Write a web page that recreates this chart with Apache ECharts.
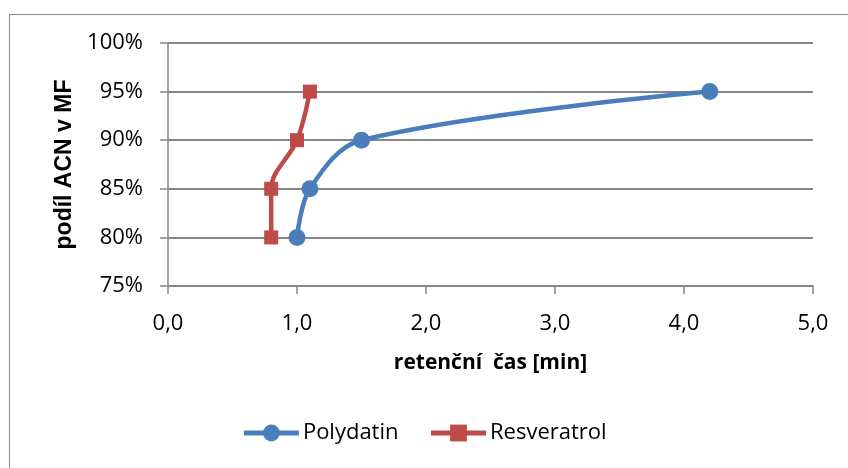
<!DOCTYPE html>
<html><head><meta charset="utf-8">
<script src="https://cdn.jsdelivr.net/npm/echarts@6/dist/echarts.min.js"></script>
<style>html,body{margin:0;padding:0;background:#fff;overflow:hidden}#c{width:848px;height:468px;position:relative}
#frame{position:absolute;left:9px;top:14px;width:860px;height:470px;border:1.5px solid #8c8c8c;box-sizing:border-box;pointer-events:none}</style>
</head><body><div id="c"></div><div id="frame"></div>
<script>
const polydatinX = [1.0, 1.1, 1.5, 4.2];
const polydatinY = [80, 85, 90, 95];
const resveratrolX = [0.8, 0.8, 1.0, 1.1];
const resveratrolY = [80, 85, 90, 95];
const seriesNames = ['Polydatin', 'Resveratrol'];
const xTitle = 'retenční  čas [min]';
const yTitle = 'podíl ACN v MF';

const font = 'Open Sans';
const chart = echarts.init(document.getElementById('c'), null, {renderer: 'canvas'});
chart.setOption({
  animation: false,
  backgroundColor: 'transparent',
  grid: {left: 168, right: 35, top: 43, bottom: 182, containLabel: false},
  legend: {
    top: 417, left: 'center', itemGap: 30, itemWidth: 55, itemHeight: 21,
    textStyle: {fontFamily: font, fontSize: 22, color: '#000', padding: [0, 0, 0, -1]},
    lineStyle: {width: 5},
    data: seriesNames
  },
  xAxis: {
    type: 'value', min: 0, max: 5, interval: 1,
    name: xTitle, nameLocation: 'middle', nameGap: 67,
    nameTextStyle: {fontFamily: font, fontSize: 21, fontWeight: 'bold', color: '#000'},
    axisLine: {show: true, lineStyle: {color: '#868686', width: 1.5}},
    axisTick: {show: true, length: 8, lineStyle: {color: '#868686', width: 1.5}},
    axisLabel: {fontFamily: font, fontSize: 22, color: '#000', margin: 27,
      formatter: v => v.toFixed(1).replace('.', ',')},
    splitLine: {show: false}
  },
  yAxis: {
    type: 'value', min: 75, max: 100, interval: 5,
    name: yTitle, nameLocation: 'middle', nameGap: 91, nameRotate: 90,
    nameTextStyle: {fontFamily: 'Liberation Sans', fontSize: 23, fontWeight: 'bold', color: '#000'},
    axisLine: {show: true, lineStyle: {color: '#868686', width: 1.5}},
    axisTick: {show: true, length: 8, lineStyle: {color: '#868686', width: 1.5}},
    axisLabel: {fontFamily: font, fontSize: 22, color: '#000', margin: 25, formatter: '{value}%'},
    splitLine: {show: true, lineStyle: {color: '#868686', width: 1.8}}
  },
  series: [
    {
      name: seriesNames[0], type: 'line', smooth: 0.35,
      data: polydatinX.map((x, i) => [x, polydatinY[i]]),
      symbol: 'circle', symbolSize: 17,
      lineStyle: {color: '#4A7EBB', width: 4.5},
      itemStyle: {color: '#4A7EBB'}
    },
    {
      name: seriesNames[1], type: 'line', smooth: 0.35,
      data: resveratrolX.map((x, i) => [x, resveratrolY[i]]),
      symbol: 'rect', symbolSize: 14,
      lineStyle: {color: '#BE4B48', width: 4.5},
      itemStyle: {color: '#BE4B48'}
    }
  ]
});
</script></body></html>
